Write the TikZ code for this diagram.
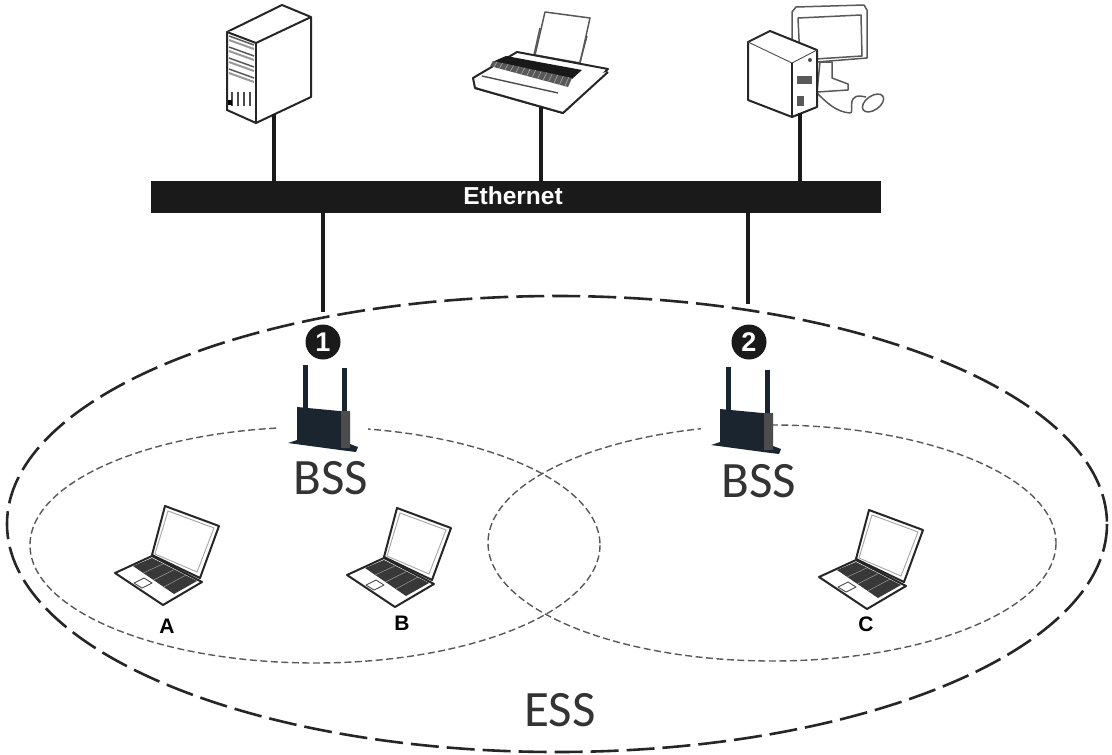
\documentclass[tikz,border=0pt]{standalone}
\usepackage{fontspec}
\setmainfont{Carlito}
\newfontfamily\labelfont{Liberation Sans}
\definecolor{apdark}{HTML}{1B2530}
\definecolor{barblack}{HTML}{1A1A1A}
\tikzset{
  x=1pt,y=-1pt,
  link/.style={line width=4pt,draw=barblack},
  essline/.style={line width=2.6pt,draw=black!85,dash pattern=on 28pt off 8pt},
  bssline/.style={line width=1.4pt,draw=black!65,dash pattern=on 7pt off 3.5pt},
  outline/.style={draw=black!85,line width=2pt,line join=round,fill=white},
  thinline/.style={draw=black!70,line width=.9pt,line join=round},
  softline/.style={draw=black!65,line width=1.5pt,line join=round},
  bignote/.style={font=\fontsize{51}{51}\selectfont,text=black!80,inner sep=0pt},
  smallbold/.style={font=\labelfont\bfseries\fontsize{21}{21}\selectfont,text=black,inner sep=0pt},
  numdot/.style={circle,fill=barblack,minimum size=35pt,inner sep=0pt,text=white,font=\labelfont\bfseries\fontsize{27}{27}\selectfont},
}
\newcommand{\laptopdraw}[2]{%
 \begin{scope}[shift={(#1,#2)}]
  \draw[outline] (165,506) -- (219,526) -- (200,578) -- (152,555) -- cycle;
  \draw[draw=black!35,line width=.9pt] (168,511) -- (214,528) -- (197,572) -- (155,554) -- cycle;
  \draw[outline] (115,573) -- (152,556) -- (202,582) -- (163,605) -- cycle;
  \fill[black!78] (133,566) -- (152,558) -- (197,581) -- (174,594) -- cycle;
  \foreach \t in {.25,.5,.75}{\draw[white!60!black,line width=.5pt] ($(133,566)!\t!(174,594)$) -- ($(152,558)!\t!(197,581)$);}
  \draw[thinline] (134,583) -- (144,578) -- (152,583) -- (142,588) -- cycle;
 \end{scope}}
\newcommand{\apdraw}[2]{%
 \begin{scope}[shift={(#1,#2)}]
  \fill[white] (278,424) rectangle (368,458);
  \fill[apdark] (303,365) rectangle (308,408);
  \fill[apdark] (342,368) rectangle (347,411);
  \fill[apdark] (288,443) -- (297,440) -- (350,444) -- (358,447) -- (356,452) -- (340,450) -- cycle;
  \fill[apdark] (297,407) -- (350,412) -- (350,448) -- (297,442) -- cycle;
  \fill[black!70] (341,411) rectangle (350,448);
 \end{scope}}
\usetikzlibrary{calc}
\begin{document}
\begin{tikzpicture}
\useasboundingbox (0,0) rectangle (1112,755);
% ellipses
\draw[essline] (557,524) ellipse [x radius=550,y radius=228];
\draw[bssline] (315,545) ellipse [x radius=285,y radius=118];
\draw[bssline] (772,543) ellipse [x radius=284,y radius=118];
% ethernet bar
\node[fill=barblack,minimum width=730pt,minimum height=32pt,inner sep=0pt] (bar) at (516,197) {};
\node[text=white,inner sep=0pt,font=\labelfont\bfseries\fontsize{24.5}{24.5}\selectfont] (ethlabel) at (513,196) {Ethernet};
% server
\draw[outline] (227,32) -- (282,5) -- (311,17) -- (311,97) -- (256,123) -- (227,110) -- cycle;
\draw[outline] (227,32) -- (256,43) -- (311,17);
\draw[outline] (256,43) -- (256,123);
\foreach \a in {36,47,58,69}{\draw[softline] (229,\a) -- (254,\a+9);\draw[draw=black!40,line width=2pt] (229,\a+4) -- (254,\a+13);}
\foreach \p in {232,238,244,250}{\draw[draw=black!70,line width=1.4pt] (\p,92) -- (\p,106);}
\fill[black] (228,100) rectangle (232,105);
\coordinate (serverport) at (274,114);
% printer
\draw[softline,fill=white] (545,12) -- (590,18) -- (580,63) -- (535,55) -- cycle;
\draw[softline] (540,28) -- (534,55);\draw[softline] (587,36) -- (580,62);
\draw[outline] (473,78) -- (517,52) -- (608,69) -- (563,113) -- (475,88) -- cycle;
\draw[outline] (475,88) -- (563,113) -- (608,72);
\fill[black!90] (492,62) -- (506,56) -- (582,70) -- (572,79) -- cycle;
\fill[black!65] (490,66) -- (493,61) -- (572,78) -- (568,87) -- cycle;
\foreach \t in {.05,.12,...,1}{\draw[white!70!black,line width=.5pt] ($(490,66)!\t!(568,87)$) -- ($(493,61)!\t!(572,78)$);}
\draw[thinline,line width=1.4pt] (482,76) -- (558,93);
\coordinate (printerport) at (541,107);
% pc: monitor, cable, mouse, tower
\draw[softline,fill=white] (792,12) -- (796,7) -- (864,5) -- (867,10) -- (867,58) -- (817,62) -- (792,62) -- cycle;
\draw[softline] (798,18) -- (861,15) -- (862,56) -- (800,60) -- cycle;
\draw[softline,fill=white] (820,62) -- (832,62) -- (832,78) -- (848,84) -- (848,90) -- (817,92) -- cycle;
\draw[softline] (817,93) .. controls (826,102) and (836,112) .. (850,113) .. controls (855,113) and (846,96) .. (860,96) -- (866,97);
\draw[softline,fill=white,rotate around={35:(873,103)}] (873,103) ellipse [x radius=12,y radius=7];
\draw[outline] (748,42) -- (770,31) -- (817,50) -- (817,107) -- (792,117) -- (748,100) -- cycle;
\draw[thinline] (748,42) -- (792,63) -- (817,50);
\draw[outline] (792,63) -- (792,117);
\fill[black!65] (797,76) rectangle (812,84);
\fill[black!65] (797,96) rectangle (804,106);
\fill[black!70] (810,60) circle (2pt);
\coordinate (pcport) at (800,113);
% access points
\apdraw{0}{0}
\apdraw{423}{2}
\coordinate (apone) at (323,312);
\coordinate (aptwo) at (748,304);
% connectors
\draw[link] (serverport) -- (serverport |- bar.north);
\draw[link] (printerport) -- (printerport |- bar.north);
\draw[link] (pcport) -- (pcport |- bar.north);
\draw[link] (apone |- bar.south) -- (apone);
\draw[link] (aptwo |- bar.south) -- (aptwo);
% numbers
\node[numdot] (one) at (323,342) {1};
\node[numdot] (two) at (749,342) {2};
% laptops
\laptopdraw{0}{0}
\laptopdraw{232}{2}
\laptopdraw{704}{4}
% labels
\node[smallbold] (la) at (167,626) {A};
\node[smallbold] (lb) at (402,623) {B};
\node[smallbold] (lc) at (866,624) {C};
\node[bignote] (bss1) at (331,478) {BSS};
\node[bignote] (bss2) at (759,481) {BSS};
\node[bignote] (ess) at (560,710) {ESS};
\end{tikzpicture}
\end{document}
